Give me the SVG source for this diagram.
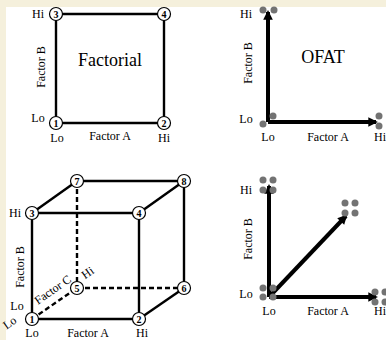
<svg xmlns="http://www.w3.org/2000/svg" width="386" height="340" viewBox="0 0 386 340">
<defs>
<style>
text{font-family:'Liberation Serif','DejaVu Serif',serif;fill:#000}
.lbl{font-size:12px}
.title{font-size:18px}
.num{font-size:10px;font-weight:bold;text-anchor:middle}
.e{stroke:#000;stroke-width:2.4;fill:none}
.d{stroke:#000;stroke-width:2.4;fill:none;stroke-dasharray:5 3}
.a{stroke:#000;stroke-width:4;fill:none}
.n{fill:#fff;stroke:#000;stroke-width:1.2}
.dot{fill:#737373}
</style>
<marker id="ah" viewBox="0 0 10 10" refX="8" refY="5" markerWidth="3.2" markerHeight="2.4" orient="auto" markerUnits="strokeWidth">
<path d="M0,0 L10,5 L0,10 z" fill="#000"/>
</marker>
</defs>
<rect width="386" height="340" fill="#fff"/>
<rect width="386" height="7" fill="#f5f0dc"/>
<rect width="6" height="340" fill="#f5f0dc"/>

<g id="connectors">
<line class="e" x1="56" y1="14" x2="164" y2="14"/>
<line class="e" x1="56" y1="123" x2="164" y2="123"/>
<line class="e" x1="56" y1="14" x2="56" y2="123"/>
<line class="e" x1="164" y1="14" x2="164" y2="123"/>
<line class="a" x1="268" y1="122" x2="268" y2="12" marker-end="url(#ah)"/>
<line class="a" x1="268" y1="122" x2="376" y2="122" marker-end="url(#ah)"/>
<line class="e" x1="77" y1="181" x2="184" y2="181"/>
<line class="e" x1="77" y1="181" x2="32" y2="213"/>
<line class="e" x1="32" y1="213" x2="139" y2="213"/>
<line class="e" x1="139" y1="213" x2="184" y2="181"/>
<line class="e" x1="184" y1="181" x2="184" y2="288"/>
<line class="e" x1="184" y1="288" x2="139" y2="319"/>
<line class="e" x1="32" y1="319" x2="139" y2="319"/>
<line class="e" x1="32" y1="213" x2="32" y2="319"/>
<line class="e" x1="139" y1="213" x2="139" y2="319"/>
<line class="d" x1="77" y1="181" x2="77" y2="288"/>
<line class="d" x1="77" y1="288" x2="184" y2="288"/>
<line class="d" x1="32" y1="319" x2="77" y2="288"/>
<line class="a" x1="269" y1="297" x2="269" y2="186" marker-end="url(#ah)"/>
<line class="a" x1="269" y1="297" x2="376" y2="297" marker-end="url(#ah)"/>
<line class="a" x1="269" y1="297" x2="346" y2="216" marker-end="url(#ah)"/>
</g>

<g id="factorial">
<text class="title" x="110" y="66" text-anchor="middle">Factorial</text>
<text class="lbl" x="38" y="18" text-anchor="middle">Hi</text>
<text class="lbl" x="38" y="122" text-anchor="middle">Lo</text>
<text class="lbl" x="57" y="142" text-anchor="middle">Lo</text>
<text class="lbl" x="110" y="140" text-anchor="middle">Factor A</text>
<text class="lbl" x="164" y="142" text-anchor="middle">Hi</text>
<text class="lbl" transform="translate(45,67) rotate(-90)" text-anchor="middle">Factor B</text>
</g>
<g id="f1"><circle class="n" cx="56" cy="123" r="6.5"/><text class="num" x="56" y="126.5">1</text></g>
<g id="f2"><circle class="n" cx="164" cy="123" r="6.5"/><text class="num" x="164" y="126.5">2</text></g>
<g id="f3"><circle class="n" cx="56" cy="14" r="6.5"/><text class="num" x="56" y="17.5">3</text></g>
<g id="f4"><circle class="n" cx="164" cy="14" r="6.5"/><text class="num" x="164" y="17.5">4</text></g>

<g id="ofat2d">
<text class="title" x="323" y="63" text-anchor="middle">OFAT</text>
<text class="lbl" x="246" y="18" text-anchor="middle">Hi</text>
<text class="lbl" x="246" y="123" text-anchor="middle">Lo</text>
<text class="lbl" x="268" y="141" text-anchor="middle">Lo</text>
<text class="lbl" x="328" y="141" text-anchor="middle">Factor A</text>
<text class="lbl" x="380" y="141" text-anchor="middle">Hi</text>
<text class="lbl" transform="translate(252,63) rotate(-90)" text-anchor="middle">Factor B</text>
<circle class="dot" cx="263" cy="10" r="3.5"/>
<circle class="dot" cx="274" cy="10" r="3.5"/>
<circle class="dot" cx="263" cy="124" r="3.5"/>
<circle class="dot" cx="273" cy="116" r="3.5"/>
<circle class="dot" cx="379" cy="116" r="3.5"/>
<circle class="dot" cx="379" cy="126" r="3.5"/>
</g>

<g id="cube">
<text class="lbl" x="15" y="217" text-anchor="middle">Hi</text>
<text class="lbl" x="17" y="310" text-anchor="middle">Lo</text>
<text class="lbl" transform="translate(12,326) rotate(-35)" text-anchor="middle">Lo</text>
<text class="lbl" x="32" y="337" text-anchor="middle">Lo</text>
<text class="lbl" x="88" y="337" text-anchor="middle">Factor A</text>
<text class="lbl" x="142" y="337" text-anchor="middle">Hi</text>
<text class="lbl" transform="translate(24,267) rotate(-90)" text-anchor="middle">Factor B</text>
<text class="lbl" transform="translate(55,293) rotate(-35)" text-anchor="middle">Factor C</text>
<text class="lbl" transform="translate(90,276) rotate(-35)" text-anchor="middle">Hi</text>
</g>
<g id="c1"><circle class="n" cx="32" cy="319" r="6.5"/><text class="num" x="32" y="322.5">1</text></g>
<g id="c2"><circle class="n" cx="139" cy="319" r="6.5"/><text class="num" x="139" y="322.5">2</text></g>
<g id="c3"><circle class="n" cx="32" cy="213" r="6.5"/><text class="num" x="32" y="216.5">3</text></g>
<g id="c4"><circle class="n" cx="139" cy="213" r="6.5"/><text class="num" x="139" y="216.5">4</text></g>
<g id="c5"><circle class="n" cx="77" cy="288" r="6.5"/><text class="num" x="77" y="291.5">5</text></g>
<g id="c6"><circle class="n" cx="184" cy="288" r="6.5"/><text class="num" x="184" y="291.5">6</text></g>
<g id="c7"><circle class="n" cx="77" cy="181" r="6.5"/><text class="num" x="77" y="184.5">7</text></g>
<g id="c8"><circle class="n" cx="184" cy="181" r="6.5"/><text class="num" x="184" y="184.5">8</text></g>

<g id="ofat3d">
<text class="lbl" x="246" y="194" text-anchor="middle">Hi</text>
<text class="lbl" x="246" y="298" text-anchor="middle">Lo</text>
<text class="lbl" x="269" y="315" text-anchor="middle">Lo</text>
<text class="lbl" x="328" y="315" text-anchor="middle">Factor A</text>
<text class="lbl" x="380" y="315" text-anchor="middle">Hi</text>
<text class="lbl" transform="translate(252,239) rotate(-90)" text-anchor="middle">Factor B</text>
<circle class="dot" cx="263" cy="180" r="3.5"/><circle class="dot" cx="273" cy="180" r="3.5"/>
<circle class="dot" cx="263" cy="190" r="3.5"/><circle class="dot" cx="273" cy="190" r="3.5"/>
<circle class="dot" cx="345" cy="203" r="3.5"/><circle class="dot" cx="355" cy="203" r="3.5"/>
<circle class="dot" cx="345" cy="213" r="3.5"/><circle class="dot" cx="355" cy="213" r="3.5"/>
<circle class="dot" cx="263" cy="288" r="3.5"/><circle class="dot" cx="273" cy="288" r="3.5"/>
<circle class="dot" cx="263" cy="297" r="3.5"/><circle class="dot" cx="273" cy="297" r="3.5"/>
<circle class="dot" cx="375" cy="292" r="3.5"/><circle class="dot" cx="385" cy="292" r="3.5"/>
<circle class="dot" cx="375" cy="302" r="3.5"/><circle class="dot" cx="385" cy="302" r="3.5"/>
</g>
</svg>
